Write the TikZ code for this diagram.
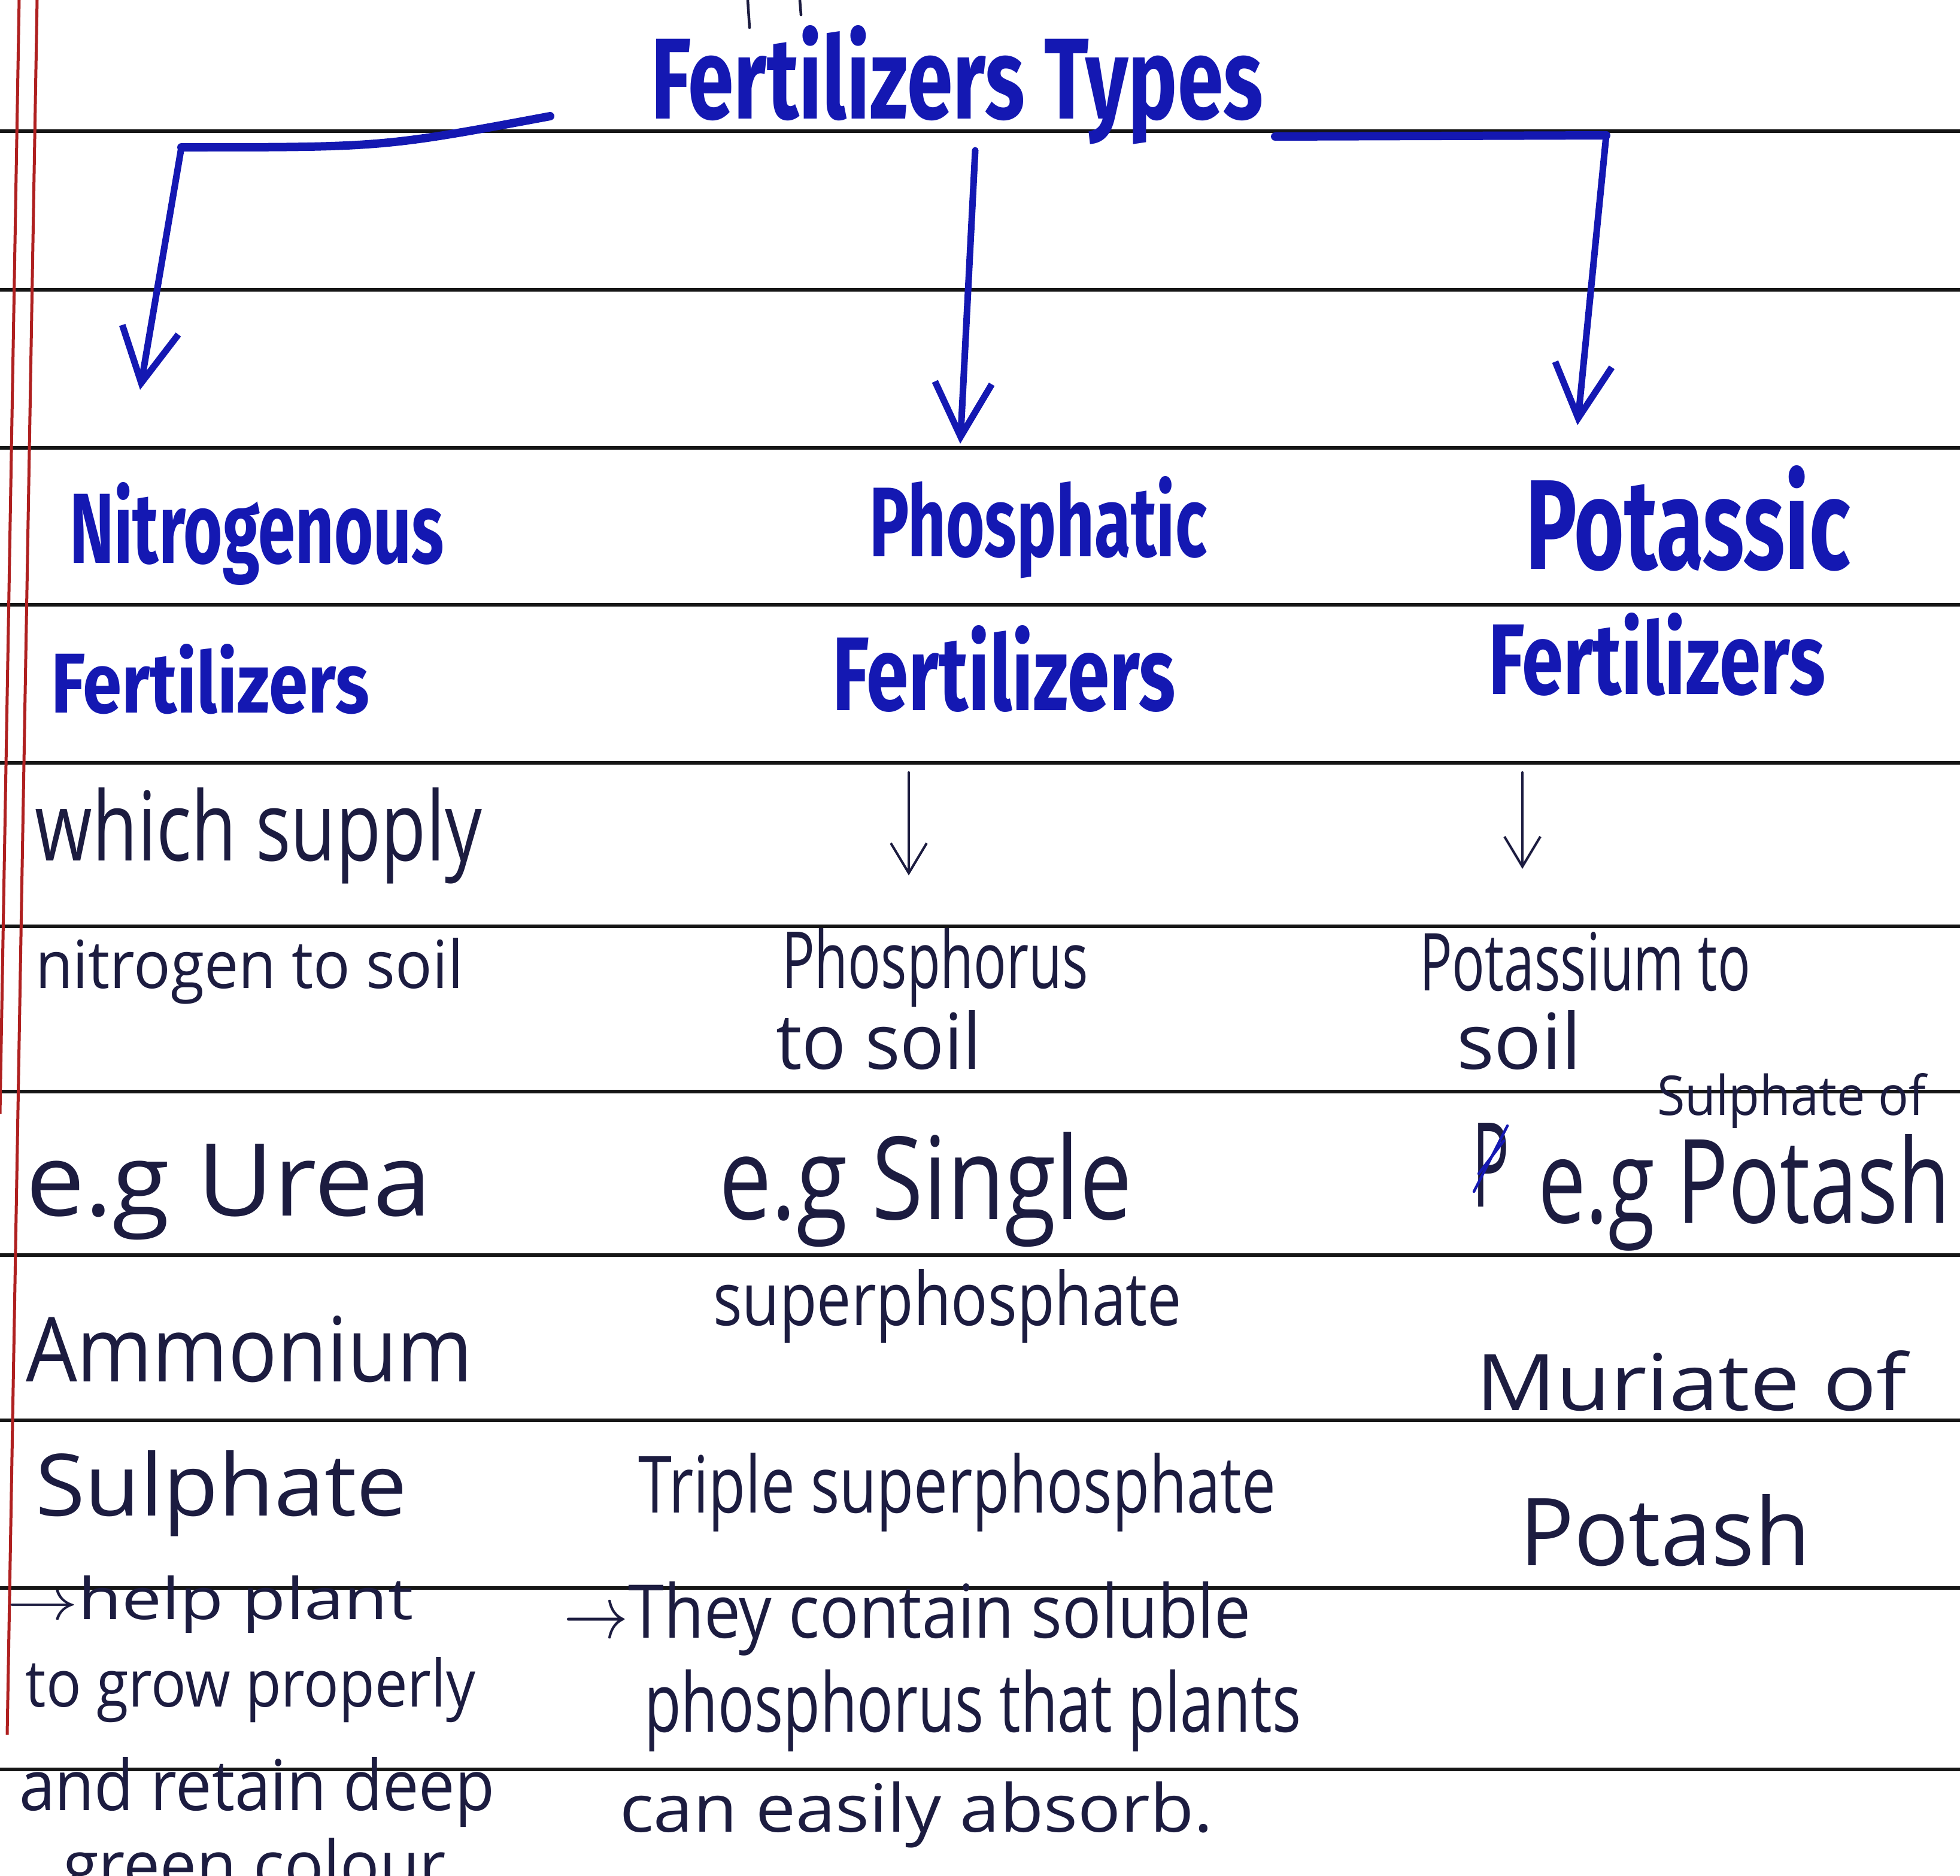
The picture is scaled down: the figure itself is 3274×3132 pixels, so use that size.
\documentclass[tikz,border=0pt]{standalone}
\usepackage{fontspec}
\usepackage{graphicx}
\usetikzlibrary{arrows.meta}
\setmainfont{Open Sans}
\newfontfamily\headfont{Fira Sans}

% one drawing unit = one pixel of the notebook scan
\newdimen\pxu \pxu=0.2pt
\newcommand{\fitto}[3]{\resizebox{#1\pxu}{#2\pxu}{#3}}

\definecolor{headc}{RGB}{20,24,178}
\definecolor{inkc}{RGB}{28,28,64}
\definecolor{rulec}{RGB}{22,22,22}
\definecolor{marginc}{RGB}{175,32,32}

\tikzset{
  ink/.style={anchor=base west, inner sep=0pt, text=inkc},
  head/.style={anchor=base west, inner sep=0pt, text=headc, font=\headfont\bfseries},
  rule/.style={draw=rulec, line width=1.2pt},
  margin/.style={draw=marginc, line width=1pt},
  bluelink/.style={draw=headc, line width=2.2pt, line cap=round, line join=round,
    -{Straight Barb[length=18pt,width=19pt]}},
  bluebar/.style={draw=headc, line width=2.8pt, line cap=round, line join=round},
  inkarrow/.style={draw=inkc, line width=0.8pt, line cap=round,
    -{Straight Barb[length=10pt,width=12pt]}},
  inkline/.style={draw=inkc, line width=0.9pt, line cap=round},
}

\begin{document}
\begin{tikzpicture}[x=0.2pt, y=-0.2pt]
  \useasboundingbox (0,0) rectangle (3274,3132);
  \clip (0,0) rectangle (3274,3132);
  \fill[white] (0,0) rectangle (3274,3132);

  % ruled lines of the notebook page
  \foreach \ry in {219,484,748,1010,1274,1547,1823,2096,2372,2652,2955}
    \draw[rule] (0,\ry) -- (3274,\ry);

  % red margin lines
  \draw[margin] (32,0) -- (0,1860);
  \draw[margin] (62,0) -- (12,2897);

  % ends of the strokes from the line above
  \draw[inkline] (1249,0) -- (1252,46);
  \draw[inkline] (1336,0) -- (1338,25);

  % title
  \node[head] (title) at (1086,198) {\fitto{1023}{156}{Fertilizers Types}};

  % branch points of the title bracket
  \coordinate (lbeg) at (919,194);
  \coordinate (lcorner) at (303,246);
  \coordinate (ltip) at (234,651);
  \coordinate (mbeg) at (1629,251);
  \coordinate (mtip) at (1604,741);
  \coordinate (rbeg) at (2130,228);
  \coordinate (rcorner) at (2683,226);
  \coordinate (rtip) at (2635,710);

  \draw[bluebar] (lbeg) .. controls (640,246) .. (lcorner);
  \draw[bluelink] (lcorner) -- (ltip);
  \draw[bluelink] (mbeg) -- (mtip);
  \draw[bluebar] (rbeg) -- (rcorner);
  \draw[bluelink] (rcorner) -- (rtip);

  % three headings
  \node[head] (nitA) at (115,940) {\fitto{626}{135}{Nitrogenous}};
  \node[head] (nitB) at (84,1190) {\fitto{532}{115}{Fertilizers}};
  \node[head] (phoA) at (1451,929) {\fitto{564}{134}{Phosphatic}};
  \node[head] (phoB) at (1389,1186) {\fitto{574}{142}{Fertilizers}};
  \node[head] (potA) at (2547,950) {\fitto{543}{173}{Potassic}};
  \node[head] (potB) at (2485,1159) {\fitto{563}{136}{Fertilizers}};

  % nitrogenous column
  \node[ink] (nsup1) at (58,1437) {\fitto{746}{122}{which supply}};
  \node[ink] (nsup2) at (58,1650) {\fitto{715}{84}{nitrogen to soil}};
  \node[ink] (nex1) at (42,2030) {\fitto{678}{120}{e.g Urea}};
  \node[ink] (nex2) at (42,2307) {\fitto{747}{110}{Ammonium}};
  \node[ink] (nex3) at (58,2531) {\fitto{621}{109}{Sulphate}};
  \node[ink] (nuse1) at (10,2704) {\fitto{679}{73}{$\rightarrow$help plant}};
  \node[ink] (nuse2) at (42,2850) {\fitto{751}{83}{to grow properly}};
  \node[ink] (nuse3) at (31,3023) {\fitto{794}{89}{and retain deep}};
  \node[ink] (nuse4) at (104,3155) {\fitto{669}{86}{green colour.}};

  % phosphatic column
  \coordinate (pa1) at (1518,1290);
  \coordinate (pa2) at (1518,1462);
  \draw[inkarrow] (pa1) -- (pa2);
  \node[ink] (psup1) at (1305,1650) {\fitto{512}{100}{Phosphorus}};
  \node[ink] (psup2) at (1295,1785) {\fitto{344}{98}{to soil}};
  \node[ink] (pex1) at (1200,2036) {\fitto{690}{146}{e.g Single}};
  \node[ink] (pex2) at (1190,2213) {\fitto{783}{94}{superphosphate}};
  \node[ink] (pex3) at (1065,2526) {\fitto{1065}{100}{Triple superphosphate}};
  \node[ink] (puse1) at (940,2735) {\fitto{1148}{94}{$\rightarrow$They contain soluble}};
  \node[ink] (puse2) at (1075,2892) {\fitto{1097}{104}{phosphorus that plants}};
  \node[ink] (puse3) at (1034,3059) {\fitto{991}{84}{can easily absorb.}};

  % potassic column
  \coordinate (ka1) at (2543,1290);
  \coordinate (ka2) at (2543,1451);
  \draw[inkarrow] (ka1) -- (ka2);
  \node[ink] (ksup1) at (2370,1654) {\fitto{553}{98}{Potassium to}};
  \node[ink] (ksup2) at (2432,1785) {\fitto{209}{98}{soil}};
  \node[ink] (kins) at (2767,1862) {\fitto{449}{70}{Sulphate of}};
  \node[ink] (kcross) at (2458,2015) {\fitto{62}{140}{P}};
  \draw[inkline, draw=headc] (2462,1990) -- (2518,1880);
  \draw[inkline, draw=headc] (2470,1960) -- (2512,1905);
  \node[ink] (kex1) at (2568,2042) {\fitto{689}{148}{e.g Potash}};
  \node[ink] (kex2) at (2464,2355) {\fitto{720}{100}{Muriate of}};
  \node[ink] (kex3) at (2537,2614) {\fitto{486}{119}{Potash}};
\end{tikzpicture}
\end{document}
